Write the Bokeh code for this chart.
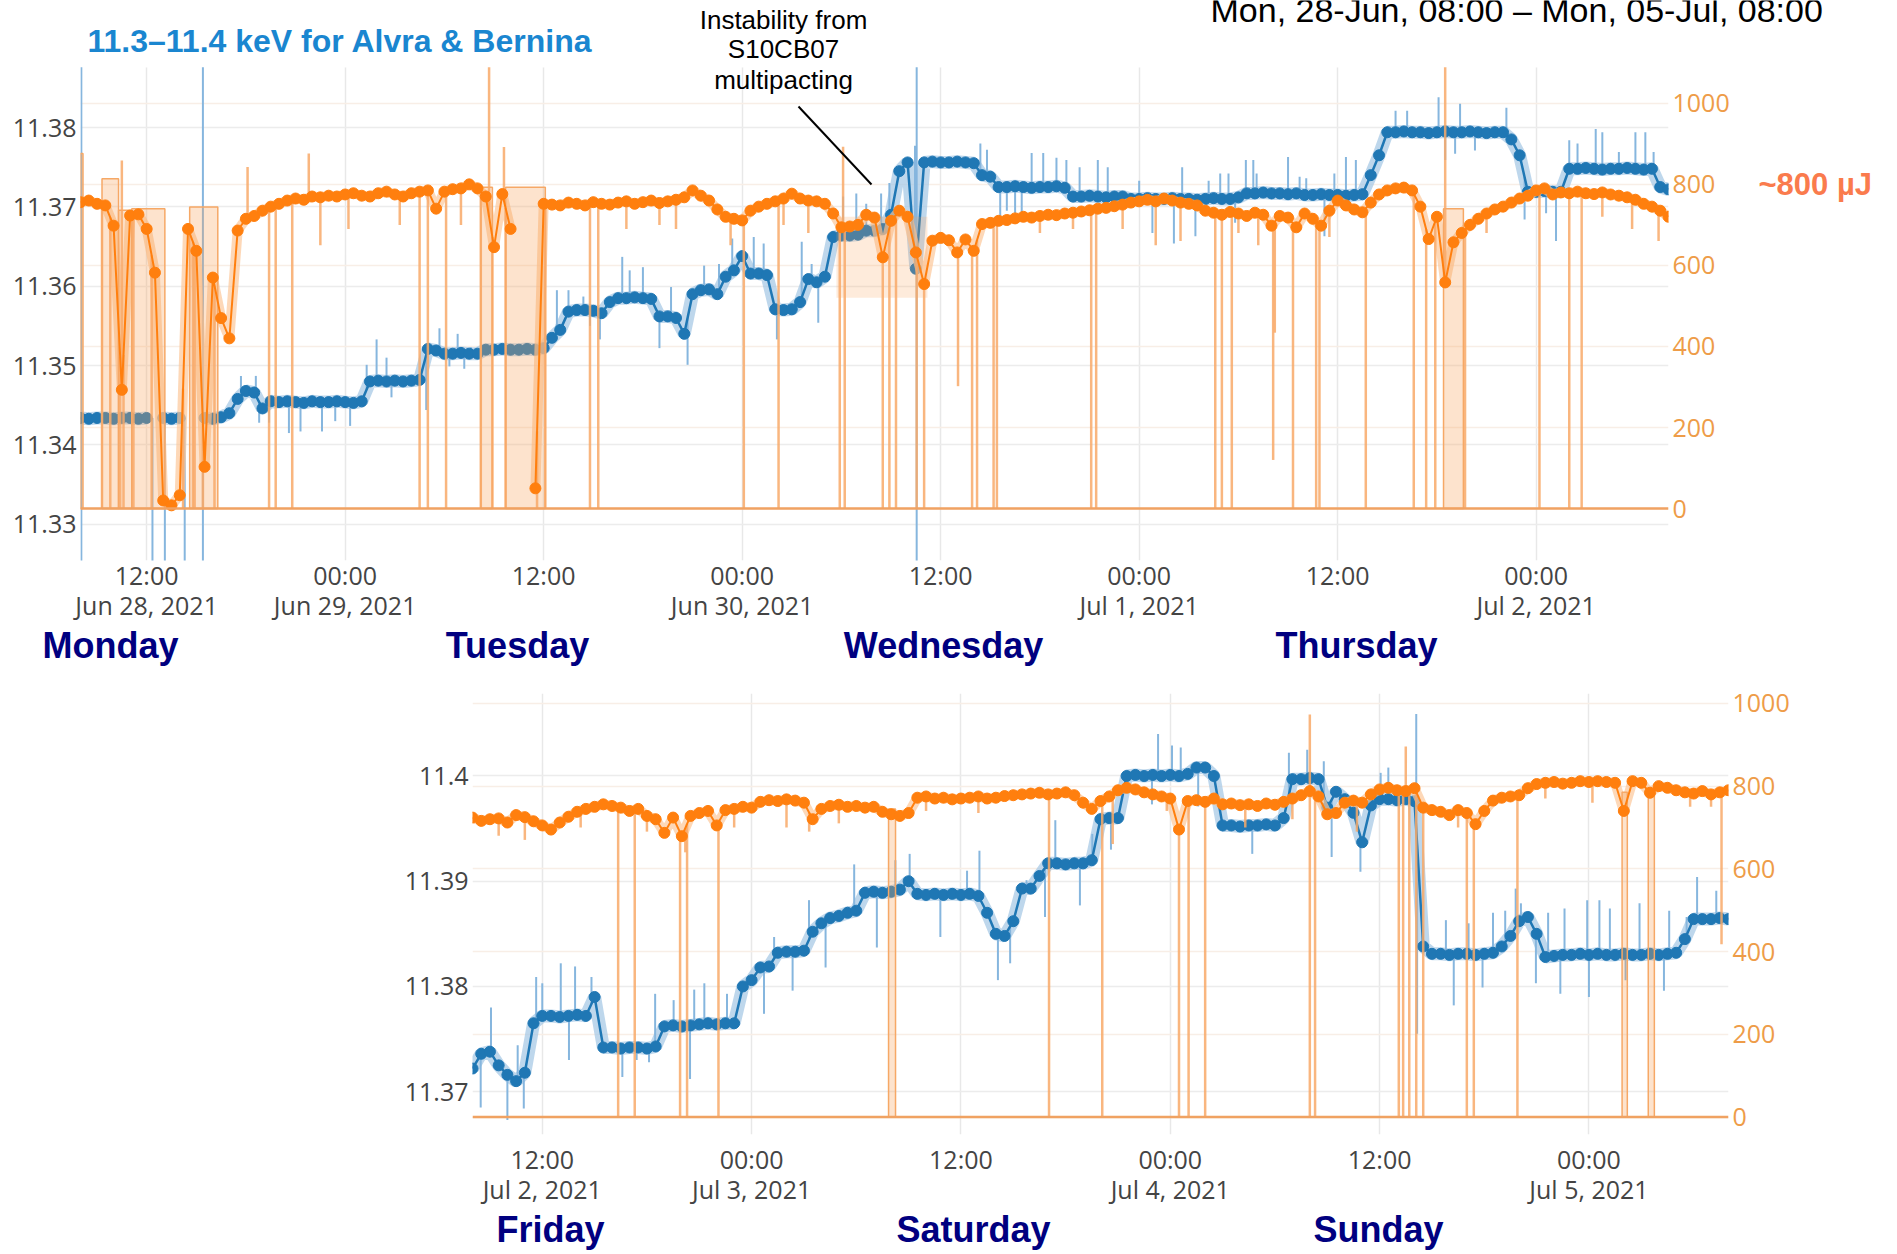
import numpy as np
import pandas as pd
from bokeh.plotting import figure
from bokeh.models import Range1d, LinearAxis, FixedTicker, Label, Grid, Span
from bokeh.embed import file_html
from bokeh.resources import INLINE

nan = float("nan")

# ---------------------------------------------------------------- data
# top panel: Mon 28-Jun 08:00 -> Fri 02-Jul 08:00, 30-min bins
top_day0 = "2021-06-28 00:00"
top_start, top_end = "2021-06-28 08:00", "2021-07-02 08:00"
top_keV = [
    11.3434, 11.3433, 11.3434, 11.3434, 11.3433, 11.3434, 11.3434, 11.3433,   # 08-11
    11.3434, nan, 11.3434, 11.3433, 11.3434, nan, nan, 11.3434,               # 12-15
    11.3433, 11.3435, 11.3440, 11.3458, 11.3468, 11.3466, 11.3446, 11.3455,   # 16-19
    11.3454, 11.3455, 11.3454, 11.3453, 11.3455, 11.3454, 11.3454, 11.3455,   # 20-23
    11.3454, 11.3453, 11.3455, 11.3480, 11.3481, 11.3480, 11.3481, 11.3480,   # 24-27
    11.3481, 11.3482, 11.3521, 11.3519, 11.3515, 11.3515, 11.3516, 11.3515,   # 28-31
    11.3515, 11.3520, 11.3520, 11.3521, 11.3520, 11.3520, 11.3521, 11.3520,   # 32-35
    11.3522, 11.3535, 11.3545, 11.3568, 11.3570, 11.3570, 11.3569, 11.3566,   # 36-39
    11.3580, 11.3585, 11.3585, 11.3586, 11.3585, 11.3584, 11.3562, 11.3562,   # 40-43
    11.3560, 11.3540, 11.3590, 11.3595, 11.3596, 11.3590, 11.3612, 11.3620,   # 44-47
    11.3638, 11.3616, 11.3616, 11.3614, 11.3571, 11.3570, 11.3571, 11.3580,   # 48-51
    11.3609, 11.3605, 11.3612, 11.3662, 11.3664, 11.3664, 11.3665, 11.3670,   # 52-55
    11.3670, 11.3672, 11.3690, 11.3745, 11.3756, 11.3622, 11.3756, 11.3757,   # 56-59
    11.3756, 11.3756, 11.3757, 11.3756, 11.3755, 11.3740, 11.3738, 11.3725,   # 60-63
    11.3725, 11.3726, 11.3725, 11.3724, 11.3725, 11.3725, 11.3726, 11.3724,   # 64-67
    11.3713, 11.3713, 11.3714, 11.3713, 11.3712, 11.3713, 11.3713, 11.3710,   # 68-71
    11.3710, 11.3711, 11.3710, 11.3710, 11.3711, 11.3710, 11.3710, 11.3709,   # 72-75
    11.3710, 11.3711, 11.3710, 11.3710, 11.3712, 11.3717, 11.3717, 11.3718,   # 76-79
    11.3717, 11.3717, 11.3716, 11.3717, 11.3715, 11.3715, 11.3716, 11.3715,   # 80-83
    11.3715, 11.3714, 11.3715, 11.3716, 11.3740, 11.3765, 11.3794, 11.3794,   # 84-87
    11.3795, 11.3794, 11.3794, 11.3793, 11.3794, 11.3795, 11.3794, 11.3794,   # 88-91
    11.3795, 11.3794, 11.3793, 11.3794, 11.3794, 11.3785, 11.3765, 11.3719,   # 92-95
    11.3719, 11.3720, 11.3719, 11.3719, 11.3748, 11.3748, 11.3749, 11.3748,   # 96-99
    11.3747, 11.3748, 11.3748, 11.3749, 11.3748, 11.3747, 11.3748, 11.3725,   # 100-103
    11.3722,
]
top_uJ = [
    756, 760, 752, 748, 698, 293, 723, 726,       # 08-11
    690, 582, 20, 8, 33, 690, 636, 103,           # 12-15
    570, 470, 420, 686, 715, 722, 735, 745,       # 16-19
    752, 760, 765, 762, 770, 768, 772, 770,       # 20-23
    775, 778, 772, 770, 778, 782, 775, 770,       # 24-27
    778, 782, 785, 740, 782, 788, 790, 800,       # 28-31
    790, 770, 645, 776, 690, nan, nan, 50,        # 32-35
    752, 750, 748, 755, 752, 748, 756, 752,       # 36-39
    750, 755, 758, 752, 756, 760, 754, 758,       # 40-43
    762, 768, 785, 772, 760, 738, 720, 715,       # 44-47
    711, 735, 745, 752, 758, 765, 777, 765,       # 48-51
    760, 758, 752, 728, 694, 696, 700, 725,       # 52-55
    718, 620, 710, 735, 720, 632, 554, 661,       # 56-59
    668, 662, 632, 664, 636, 702, 705, 710,       # 60-63
    712, 716, 720, 718, 722, 725, 724, 728,       # 64-67
    730, 733, 736, 740, 742, 746, 750, 755,       # 68-71
    758, 762, 758, 765, 760, 755, 752, 748,       # 72-75
    735, 730, 725, 732, 728, 722, 730, 725,       # 76-79
    698, 722, 718, 694, 728, 715, 698, 735,       # 80-83
    760, 748, 738, 731, 755, 775, 785, 790,       # 84-87
    792, 785, 745, 665, 720, 558, 657, 680,       # 88-91
    700, 715, 728, 738, 745, 755, 765, 772,       # 92-95
    785, 790, 775, 780, 778, 782, 778, 776,       # 96-99
    780, 775, 772, 768, 762, 752, 745, 735,       # 100-103
    720,
]
# (hour since 28-Jun 00:00, extreme keV) of the raw photon-energy excursions
top_blue_spikes = [
    (8.05, 11.3876), (8.05, 11.32), (12.35, 11.32), (13.1, 11.32), (14.3, 11.32),
    (15.4, 11.3876), (15.4, 11.32), (58.55, 11.3876), (58.55, 11.32),
    (17.7, 11.3487), (18.6, 11.3487), (18.8, 11.3428), (19.4, 11.3428), (20.6, 11.3415),
    (21.3, 11.3417), (22.6, 11.3417), (23.4, 11.3430), (24.3, 11.3424), (25.3, 11.3501),
    (25.9, 11.3533), (26.5, 11.3510), (26.8, 11.3460), (27.6, 11.3475), (28.9, 11.3444),
    (29.7, 11.3547), (30.3, 11.3499), (30.8, 11.3540), (31.2, 11.3496), (31.6, 11.3523),
    (36.8, 11.3595), (37.5, 11.3595), (38.4, 11.3587), (38.8, 11.3550), (39.4, 11.3533),
    (40.75, 11.3637), (41.2, 11.3620), (42.0, 11.3624), (43.0, 11.3522), (43.7, 11.3599),
    (44.7, 11.3501), (45.7, 11.3626), (46.6, 11.3628), (47.4, 11.3660), (48.7, 11.3662),
    (49.3, 11.3654), (50.1, 11.3533), (51.6, 11.3656), (52.2, 11.3628), (52.6, 11.3554),
    (54.1, 11.3713), (54.9, 11.3717), (55.5, 11.3704), (56.4, 11.3717), (56.9, 11.3730),
    (58.45, 11.3777), (62.4, 11.3780), (62.8, 11.3772), (63.6, 11.3683), (64.0, 11.3695),
    (64.5, 11.3692), (64.9, 11.3686), (65.5, 11.3768), (66.2, 11.3768), (67.0, 11.3762),
    (67.6, 11.3759), (68.4, 11.3750), (69.5, 11.3759), (70.1, 11.3750),
    (72.0, 11.3733), (72.8, 11.3667), (74.1, 11.3654), (74.6, 11.3750), (75.4, 11.3663),
    (76.2, 11.3733), (76.9, 11.3742), (77.4, 11.3742), (77.8, 11.3680), (78.45, 11.3759),
    (78.9, 11.3759), (79.1, 11.3742), (81.0, 11.3763), (81.7, 11.3738), (82.1, 11.3736),
    (83.2, 11.3663), (83.8, 11.3742), (84.5, 11.3763), (85.1, 11.3759), (87.5, 11.3821),
    (88.2, 11.3821), (90.1, 11.3838), (90.5, 11.3759), (91.1, 11.3767), (91.4, 11.3830),
    (92.3, 11.3771), (94.2, 11.3825), (95.3, 11.3684), (96.6, 11.3692), (97.2, 11.3657),
    (98.0, 11.3784), (98.5, 11.3780), (99.6, 11.3798), (100.0, 11.3794), (101.0, 11.3769),
    (102.0, 11.3794), (102.6, 11.3794), (103.1, 11.3769),
]
# (hour, extreme µJ) of the raw pulse-energy excursions (drops to 0 = beam off)
top_orange_spikes = [
    (9.3, 0), (9.8, 0), (10.4, 0), (10.6, 0), (11.2, 0), (12.3, 0), (13.2, 0), (14.2, 0),
    (14.8, 0), (14.9, 0), (15.4, 0), (16.1, 0), (19.4, 0), (19.8, 0), (20.8, 0), (28.5, 0),
    (29.0, 0), (30.1, 0), (32.2, 0), (32.9, 0), (33.7, 0), (35.6, 0), (36.1, 0), (38.8, 0),
    (39.3, 0), (48.1, 0), (50.2, 0), (53.9, 0), (54.2, 0), (56.5, 0), (56.9, 0), (57.3, 0),
    (58.55, 0), (59.0, 0), (61.05, 302), (61.9, 0), (62.2, 0), (63.2, 0), (63.4, 0),
    (69.1, 0), (69.4, 0), (76.6, 0), (77.0, 0), (77.6, 0), (80.1, 120), (80.2, 434),
    (81.3, 0), (82.7, 0), (82.9, 0), (85.7, 0), (88.6, 0), (89.35, 0), (89.9, 0), (91.7, 0),
    (96.2, 0), (98.0, 0), (98.75, 0),
    (10.5, 859), (18.1, 843), (21.8, 876), (32.7, 1089), (33.6, 892), (54.1, 893), (90.5, 1089),
    (22.5, 650), (24.2, 690), (27.3, 700), (31.0, 700), (41.0, 690), (43.0, 700), (44.0, 690),
    (47.3, 650), (50.5, 700), (52.0, 680), (66.0, 680), (68.0, 690), (71.0, 690), (73.0, 650),
    (74.5, 660), (78.0, 680), (79.2, 650), (83.5, 670), (93.0, 680), (100.0, 720),
    (101.8, 690), (103.4, 660),
]
# (start hour, end hour, min µJ, max µJ) of raw envelope blocks
top_orange_blocks = [
    (8.0, 8.15, 0, 876), (9.3, 10.3, 0, 814), (10.3, 11.1, 0, 736), (11.1, 13.1, 0, 740),
    (14.6, 16.3, 0, 744), (32.2, 32.9, 0, 793), (33.7, 36.1, 0, 793), (53.7, 59.2, 520, 720),
    (90.4, 91.6, 0, 740),
]

# bottom panel: Fri 02-Jul 08:00 -> Mon 05-Jul 08:00, 30-min bins
bot_day0 = "2021-07-02 00:00"
bot_start, bot_end = "2021-07-02 08:00", "2021-07-05 08:00"
bot_keV = [
    11.3722, 11.3736, 11.3738, 11.3725, 11.3716, 11.3710, 11.3718, 11.3765,   # 08-11
    11.3772, 11.3772, 11.3771, 11.3772, 11.3773, 11.3772, 11.3790, 11.3742,   # 12-15
    11.3742, 11.3741, 11.3742, 11.3742, 11.3741, 11.3743, 11.3762, 11.3763,   # 16-19
    11.3762, 11.3763, 11.3764, 11.3765, 11.3764, 11.3765, 11.3765, 11.3800,   # 20-23
    11.3806, 11.3818, 11.3819, 11.3832, 11.3833, 11.3833, 11.3834, 11.3852,   # 24-27
    11.3860, 11.3865, 11.3867, 11.3870, 11.3872, 11.3889, 11.3890, 11.3889,   # 28-31
    11.3890, 11.3892, 11.3900, 11.3888, 11.3887, 11.3888, 11.3887, 11.3888,   # 32-35
    11.3887, 11.3888, 11.3886, 11.3870, 11.3850, 11.3848, 11.3862, 11.3893,   # 36-39
    11.3893, 11.3905, 11.3917, 11.3917, 11.3916, 11.3917, 11.3917, 11.3920,   # 40-43
    11.3959, 11.3960, 11.3960, 11.4000, 11.4001, 11.4000, 11.4001, 11.4000,   # 44-47
    11.4001, 11.4000, 11.4002, 11.4008, 11.4008, 11.4000, 11.3953, 11.3953,   # 48-51
    11.3952, 11.3953, 11.3953, 11.3954, 11.3953, 11.3960, 11.3997, 11.3997,   # 52-55
    11.3998, 11.3997, 11.3970, 11.3985, 11.3978, 11.3965, 11.3937, 11.3972,   # 56-59
    11.3978, 11.3978, 11.3977, 11.3978, 11.3976, 11.3838, 11.3831, 11.3831,   # 60-63
    11.3830, 11.3831, 11.3831, 11.3830, 11.3831, 11.3832, 11.3838, 11.3848,   # 64-67
    11.3862, 11.3866, 11.3850, 11.3828, 11.3829, 11.3830, 11.3830, 11.3831,   # 68-71
    11.3830, 11.3831, 11.3830, 11.3830, 11.3831, 11.3830, 11.3830, 11.3831,   # 72-75
    11.3830, 11.3831, 11.3832, 11.3845, 11.3864, 11.3864, 11.3864, 11.3865,   # 76-79
    11.3864,
]
bot_uJ = [
    724, 716, 720, 722, 712, 730, 725, 715,       # 08-11
    705, 695, 712, 726, 738, 745, 750, 756,       # 12-15
    752, 748, 740, 745, 728, 720, 687, 724,       # 16-19
    679, 728, 735, 740, 705, 742, 745, 750,       # 20-23
    748, 762, 766, 764, 768, 765, 760, 720,       # 24-27
    745, 752, 755, 750, 752, 748, 750, 738,       # 28-31
    732, 728, 735, 772, 775, 770, 772, 768,       # 32-35
    770, 772, 775, 770, 772, 776, 778, 780,       # 36-39
    782, 784, 780, 782, 785, 778, 760, 745,       # 40-43
    764, 775, 790, 796, 792, 785, 780, 775,       # 44-47
    770, 695, 764, 766, 762, 770, 756, 758,       # 48-51
    754, 756, 752, 758, 755, 762, 770, 778,       # 52-55
    788, 775, 732, 735, 760, 765, 760, 780,       # 56-59
    792, 796, 790, 788, 795, 748, 742, 738,       # 60-63
    730, 742, 735, 708, 740, 765, 772, 775,       # 64-67
    778, 795, 805, 808, 810, 806, 808, 812,       # 68-71
    810, 812, 810, 808, 740, 812, 808, 784,       # 72-75
    800, 796, 790, 785, 782, 788, 780, 785,       # 76-79
    790,
]
bot_blue_spikes = [
    (8.47, 11.3685), (9.06, 11.3780), (10.0, 11.3673), (10.59, 11.3744), (10.94, 11.3684),
    (11.65, 11.3809), (12.0, 11.3803), (13.06, 11.3822), (13.53, 11.3730), (13.88, 11.3819),
    (14.82, 11.3809), (16.59, 11.3714), (17.41, 11.3730), (18.12, 11.3728), (18.47, 11.3793),
    (19.53, 11.3787), (20.47, 11.3712), (20.71, 11.3797), (21.29, 11.3803), (22.59, 11.3793),
    (23.53, 11.3796), (24.71, 11.3774), (25.29, 11.3847), (26.35, 11.3796), (27.29, 11.3882),
    (28.24, 11.3818), (29.88, 11.3916), (31.18, 11.3837), (32.24, 11.3920), (33.06, 11.3926),
    (34.82, 11.3847), (36.35, 11.3910), (37.06, 11.3929), (38.12, 11.3806), (38.82, 11.3822),
    (39.76, 11.3901), (40.82, 11.3866), (41.41, 11.3958), (42.82, 11.3877), (43.53, 11.3945),
    (44.6, 11.3930), (46.95, 11.3973), (47.3, 11.4040), (48.1, 11.4029), (48.6, 11.4027),
    (49.6, 11.3971), (52.7, 11.3926), (54.8, 11.4022), (55.85, 11.4025), (56.8, 11.4014),
    (57.25, 11.3923), (58.9, 11.3909), (60.06, 11.4003), (60.5, 11.4008), (62.1, 11.4059),
    (62.15, 11.3755), (63.8, 11.3863), (64.25, 11.3782), (65.1, 11.3860), (65.9, 11.3799),
    (66.5, 11.3870), (67.2, 11.3872), (67.8, 11.3893), (68.1, 11.3879), (68.96, 11.3803),
    (69.66, 11.3870), (70.36, 11.3793), (70.6, 11.3874), (71.9, 11.3882), (72.0, 11.3790),
    (72.6, 11.3882), (73.2, 11.3874), (74.1, 11.3806), (74.9, 11.3879), (76.3, 11.3796),
    (76.6, 11.3872), (77.6, 11.3866), (78.2, 11.3904), (79.3, 11.3891),
]
bot_orange_spikes = [
    (16.35, 0), (17.3, 0), (19.9, 0), (20.3, 0), (22.1, 0), (41.05, 0), (44.1, 0), (48.5, 0),
    (49.05, 0), (50.0, 0), (56.0, 0), (56.3, 0), (61.1, 0), (61.35, 0), (61.7, 0), (62.1, 0),
    (62.5, 0), (65.0, 0), (65.4, 0), (67.9, 0), (79.6, 418),
    (56.0, 973), (61.5, 896),
    (9.5, 680), (11.0, 670), (14.2, 700), (18.0, 690), (20.2, 640), (23.0, 700), (26.0, 700),
    (27.3, 690), (29.0, 710), (34.0, 740), (37.0, 735), (44.7, 660), (47.8, 740), (52.3, 700),
    (55.0, 720), (58.7, 690), (64.5, 700), (69.5, 770), (72.2, 760), (77.8, 750), (79.0, 750),
]
bot_orange_blocks = [(31.85, 32.25, 0, 745), (73.9, 74.2, 0, 785), (75.4, 75.75, 0, 790)]

# axis ticks
top_keV_ticks = [11.33, 11.34, 11.35, 11.36, 11.37, 11.38]
top_keV_labels = ["11.33", "11.34", "11.35", "11.36", "11.37", "11.38"]
bot_keV_ticks = [11.37, 11.38, 11.39, 11.4]
bot_keV_labels = ["11.37", "11.38", "11.39", "11.4"]
uJ_ticks = [0, 200, 400, 600, 800, 1000]
top_time_ticks = [12, 24, 36, 48, 60, 72, 84, 96]
top_time_labels = ["12:00\nJun 28, 2021", "00:00\nJun 29, 2021", "12:00", "00:00\nJun 30, 2021",
                   "12:00", "00:00\nJul 1, 2021", "12:00", "00:00\nJul 2, 2021"]
bot_time_ticks = [12, 24, 36, 48, 60, 72]
bot_time_labels = ["12:00\nJul 2, 2021", "00:00\nJul 3, 2021", "12:00", "00:00\nJul 4, 2021",
                   "12:00", "00:00\nJul 5, 2021"]
top_days = ["Monday", "Tuesday", "Wednesday", "Thursday"]
bot_days = ["Friday", "Saturday", "Sunday"]

# ---------------------------------------------------------------- styling
BLUE = "#1f77b4"
ORANGE = "#ff7f0e"
TICK_FONT = "Open Sans"
TXT_FONT = "Liberation Sans"
TICK_SIZE = "25px"
W = 1897
HEADER_H = 64


def ms_of(day0, hours):
    return pd.Timestamp(day0).value / 1e6 + np.asarray(hours, dtype=float) * 3.6e6


def plain_axis(ax):
    ax.axis_line_color = None
    ax.major_tick_line_color = None
    ax.minor_tick_line_color = None
    ax.major_tick_out = 0
    ax.major_tick_in = 0
    ax.minor_tick_out = 0
    ax.minor_tick_in = 0


def build_panel(day0, start, end, keV, uJ, keV_rng, uJ_rng, keV_ticks, keV_labels,
                t_ticks, t_labels, bspk, ospk, blocks, H, bl, br, bt, bb,
                xstandoff, grid_top, page_y0):
    idx = pd.date_range(start, end, freq="30min")
    tx = idx.asi8 / 1e6
    hrs = (tx - ms_of(day0, 0)) / 3.6e6
    keV = np.array(keV, dtype=float)
    uJ = np.array(uJ, dtype=float)

    p = figure(width=W, height=H, x_axis_type="datetime",
               x_range=Range1d(tx[0], tx[-1]), y_range=Range1d(*keV_rng),
               output_backend="svg", toolbar_location=None,
               min_border_left=bl, min_border_right=br, min_border_top=bt, min_border_bottom=bb)
    p.outline_line_color = None
    p.background_fill_color = "white"
    p.border_fill_color = "white"
    p.extra_y_ranges = {"pe": Range1d(*uJ_rng)}

    # x axis (time)
    xa = p.xaxis[0]
    tms = [float(v) for v in ms_of(day0, t_ticks)]
    xa.ticker = FixedTicker(ticks=tms)
    xa.major_label_overrides = {m: l for m, l in zip(tms, t_labels)}
    plain_axis(xa)
    xa.major_label_text_font = TICK_FONT
    xa.major_label_text_font_size = TICK_SIZE
    xa.major_label_text_color = "#444444"
    xa.major_label_standoff = xstandoff
    xa.major_label_text_line_height = 0.9
    p.xgrid.ticker = FixedTicker(ticks=tms)
    p.xgrid.grid_line_color = "#e8e8e8"
    p.xgrid.grid_line_width = 1.5
    p.xgrid.cross_bounds = (keV_rng[0], grid_top)

    # left axis (photon energy)
    ya = p.yaxis[0]
    ya.ticker = FixedTicker(ticks=keV_ticks)
    ya.major_label_overrides = {t: l for t, l in zip(keV_ticks, keV_labels)}
    plain_axis(ya)
    ya.major_label_text_font = TICK_FONT
    ya.major_label_text_font_size = TICK_SIZE
    ya.major_label_text_color = "#444444"
    ya.major_label_standoff = 4
    p.ygrid.grid_line_color = "#ececec"
    p.ygrid.grid_line_width = 1.5

    # right axis (pulse energy)
    ra = LinearAxis(y_range_name="pe", ticker=FixedTicker(ticks=uJ_ticks))
    plain_axis(ra)
    ra.major_label_text_font = TICK_FONT
    ra.major_label_text_font_size = TICK_SIZE
    ra.major_label_text_color = "#ee9c48"
    ra.major_label_standoff = 4
    p.add_layout(ra, "right")
    p.add_layout(Grid(dimension=1, ticker=FixedTicker(ticks=uJ_ticks), y_range_name="pe",
                      grid_line_color="#f8eee6", grid_line_width=1.5))

    # ---- blue: photon energy
    ok = ~np.isnan(keV)
    bh = np.array([s[0] for s in bspk])
    bv = np.array([s[1] for s in bspk])
    bbase = np.interp(bh, hrs[ok], keV[ok])
    p.line(tx, keV, line_color="#a8c9e6", line_width=13, line_alpha=0.75)
    p.segment(x0=ms_of(day0, bh), y0=bbase, x1=ms_of(day0, bh), y1=bv,
              line_color="#86b6de", line_width=2)
    p.line(tx, keV, line_color=BLUE, line_width=2.5)
    p.scatter(tx, keV, size=11, fill_color=BLUE, line_color=BLUE)

    # ---- orange: pulse energy
    ok2 = ~np.isnan(uJ)
    oh = np.array([s[0] for s in ospk])
    ov = np.array([s[1] for s in ospk])
    obase = np.interp(oh, hrs[ok2], uJ[ok2])
    p.line(tx, uJ, line_color="#fcc89a", line_width=10, line_alpha=0.7, y_range_name="pe")
    p.add_layout(Span(location=0, dimension="width", y_range_name="pe",
                      line_color="#f0a262", line_width=2.5))
    full = [b for b in blocks if b[2] <= 0]
    band = [b for b in blocks if b[2] > 0]
    p.quad(left=ms_of(day0, [b[0] for b in full]), right=ms_of(day0, [b[1] for b in full]),
           bottom=[b[2] for b in full], top=[b[3] for b in full], y_range_name="pe",
           fill_color="#f9a25a", fill_alpha=0.3, line_color="#f6a866", line_width=1.5)
    if band:
        p.quad(left=ms_of(day0, [b[0] for b in band]), right=ms_of(day0, [b[1] for b in band]),
               bottom=[b[2] for b in band], top=[b[3] for b in band], y_range_name="pe",
               fill_color="#f9a25a", fill_alpha=0.22, line_color=None)
    p.segment(x0=ms_of(day0, oh), y0=obase, x1=ms_of(day0, oh), y1=ov, y_range_name="pe",
              line_color="#f8a968", line_width=2.5, line_alpha=0.85)
    p.line(tx, uJ, line_color=ORANGE, line_width=2, y_range_name="pe")
    p.scatter(tx, uJ, size=11, fill_color=ORANGE, line_color=ORANGE, y_range_name="pe")

    # page-pixel -> data helpers for annotation placement
    fl, fr, ft, fb = bl, W - br, bt + page_y0, H - bb + page_y0

    def cx(px):
        return tx[0] + (px - fl) / (fr - fl) * (tx[-1] - tx[0])

    def cy(py):
        return keV_rng[1] - (py - ft) / (fb - ft) * (keV_rng[1] - keV_rng[0])

    return p, cx, cy


def add_text(p, x, y, text, size, color="black", bold=False, align="left",
             baseline="middle", font=TXT_FONT, yname="default"):
    p.add_layout(Label(x=x, y=y, text=text, text_font=font, text_font_size=size,
                       text_color=color, text_font_style="bold" if bold else "normal",
                       text_align=align, text_baseline=baseline, y_range_name=yname))


def day_axis(p, cx, names, centers, standoff):
    ticks = [float(cx(c)) for c in centers]
    ax = LinearAxis(ticker=FixedTicker(ticks=ticks),
                    major_label_overrides={t: n for t, n in zip(ticks, names)})
    plain_axis(ax)
    ax.major_label_text_font = TXT_FONT
    ax.major_label_text_font_size = "36px"
    ax.major_label_text_font_style = "bold"
    ax.major_label_text_color = "#000080"
    ax.major_label_standoff = standoff
    p.add_layout(ax, "below")


# ---------------------------------------------------------------- header strip (page px)
header = figure(width=W, height=HEADER_H, x_range=Range1d(0, W), y_range=Range1d(HEADER_H, 0),
                x_axis_location=None, y_axis_location=None, output_backend="svg",
                toolbar_location=None, min_border=0)
header.outline_line_color = None
header.grid.visible = False
add_text(header, 87, 40, "11.3\u201311.4 keV for Alvra & Bernina", "32px",
         color="#1a86d0", bold=True)
add_text(header, 1210, 9, "Mon, 28-Jun, 08:00 \u2013 Mon, 05-Jul, 08:00", "34px",
         baseline="alphabetic")
add_text(header, 783, 19, "Instability from", "26px", align="center")
add_text(header, 783, 48, "S10CB07", "26px", align="center")

# ---------------------------------------------------------------- top panel
TOP_H = 673 - HEADER_H
top, tcx, tcy = build_panel(top_day0, top_start, top_end, top_keV, top_uJ,
                            (11.32544, 11.38794), (-128.1, 1095.7),
                            top_keV_ticks, top_keV_labels, top_time_ticks, top_time_labels,
                            top_blue_spikes, top_orange_spikes, top_orange_blocks,
                            TOP_H, 80, 229, 0, TOP_H - (560 - HEADER_H), -3, 11.38762, HEADER_H)

add_text(top, tcx(783), tcy(79), "multipacting", "26px", align="center")
top.segment(x0=[tcx(798)], y0=[tcy(106)], x1=[tcx(871)], y1=[tcy(184)],
            line_color="black", line_width=2)

# "~800 µJ" marker on a second right-hand axis
pe_note = LinearAxis(y_range_name="pe", ticker=FixedTicker(ticks=[800]),
                     major_label_overrides={800: "~800 \u00b5J"})
plain_axis(pe_note)
pe_note.major_label_text_font = TXT_FONT
pe_note.major_label_text_font_size = "31px"
pe_note.major_label_text_font_style = "bold"
pe_note.major_label_text_color = "#fa7b4d"
pe_note.major_label_standoff = 26
top.add_layout(pe_note, "right")

day_axis(top, tcx, top_days, [110, 517, 943, 1356], -1)

# ---------------------------------------------------------------- bottom panel
BOT_Y0 = 673
BOT_H = 1252 - BOT_Y0
bot, bcx, bcy = build_panel(bot_day0, bot_start, bot_end, bot_keV, bot_uJ,
                            (11.36593, 11.40784), (-42.1, 1023.9),
                            bot_keV_ticks, bot_keV_labels, bot_time_ticks, bot_time_labels,
                            bot_blue_spikes, bot_orange_spikes, bot_orange_blocks,
                            BOT_H, 472, 169, 693 - BOT_Y0, 1252 - 1134, 7, 11.40784, BOT_Y0)
day_axis(bot, bcx, bot_days, [550, 973, 1378], -1)

open("out.html", "w").write(file_html([header, top, bot], INLINE))
